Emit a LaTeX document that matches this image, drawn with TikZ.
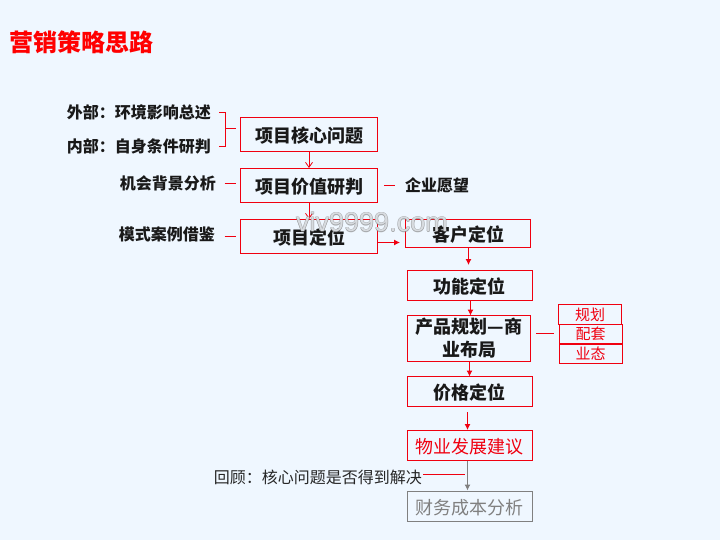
\documentclass[tikz,border=0pt]{standalone}
\usepackage{fontspec}
\setmainfont{Noto Sans CJK SC}
\newfontfamily\latin{Liberation Sans}
\usetikzlibrary{arrows.meta}
\definecolor{bgc}{HTML}{EFF7FF}
\definecolor{rd}{HTML}{F00010}
\tikzset{
  box/.style={draw=rd,line width=1pt,minimum height=34pt,inner sep=0pt,align=center,font=\fontsize{18}{23}\selectfont\bfseries,text=black!90,execute at begin node={\rule{0pt}{18pt}}},
  lab/.style={inner sep=0pt,font=\fontsize{16}{18}\selectfont\bfseries,text=black!90},
  sub/.style={draw=rd,line width=1pt,minimum width=63pt,minimum height=19.5pt,inner sep=0pt,font=\fontsize{15}{16}\selectfont,text=rd},
  conn/.style={draw=rd,line width=1pt},
  arr/.style={conn,-{Latex[length=6pt,width=6pt]}},
  varr/.style={conn,-{Straight Barb[length=5pt,width=7pt]}},
  wmark/.style={inner sep=0pt,font=\latin\fontsize{27}{28}\selectfont}
}
\begin{document}
\begin{tikzpicture}[x=1pt,y=-1pt]
\fill[bgc] (0,0) rectangle (720,540);
\useasboundingbox (0,0) rectangle (720,540);
\node[anchor=west,inner sep=0pt,text=red,font=\fontsize{24}{26}\selectfont\bfseries] (title) at (9,42) {营销策略思路};
\node[box,minimum width=137pt] (core) at (309,134.5) {项目核心问题};
\node[box,minimum width=137pt] (value) at (309,185.5) {项目价值研判};
\node[box,minimum width=137pt] (proj) at (309,236.5) {项目定位};
\node[box,minimum width=125pt,minimum height=28pt] (cust) at (468,233.5) {客户定位};
\node[box,minimum width=125pt,minimum height=30pt] (func) at (469.5,285.5) {功能定位};
\node[box,minimum width=123pt,minimum height=46pt] (prod) at (469,338.5) {产品规划—商\\业布局};
\node[box,minimum width=125pt,minimum height=30pt] (price) at (469.5,391.5) {价格定位};
\node[box,minimum width=125pt,minimum height=30pt,font=\fontsize{18}{23}\selectfont,text=rd] (prop) at (469.5,445.5) {物业发展建议};
\node[box,draw=gray,minimum width=125pt,minimum height=30pt,font=\fontsize{18}{23}\selectfont,text=gray] (fin) at (469.5,506.5) {财务成本分析};
\node[sub] (s1) at (590,314.5) {规划};
\node[sub] (s2) at (590.5,334) {配套};
\node[sub] (s3) at (590.5,354) {业态};
\node[lab,anchor=east] (ext) at (211,112.5) {外部：环境影响总述};
\node[lab,anchor=east] (int) at (211,146.5) {内部：自身条件研判};
\node[lab,anchor=east] (opp) at (216,183.5) {机会背景分析};
\node[lab,anchor=east] (case) at (215,234.5) {模式案例借鉴};
\node[lab,anchor=west] (wish) at (405,185.5) {企业愿望};
\node[anchor=east,inner sep=0pt,font=\fontsize{16}{18}\selectfont,text=black!85] (rev) at (422,477.5) {回顾：核心问题是否得到解决};
\coordinate (bt) at (219,112.5);
\coordinate (bb) at (219,146.5);
\coordinate (bm) at (225.5,128.5);
\draw[conn] (bt) -- (225.5,112.5) -- (225.5,146.5) -- (bb);
\draw[conn] (bm) -- (236,128.5);
\draw[varr,line width=.8pt] (core) -- (value);
\draw[varr,line width=.8pt] (value) -- (proj);
\draw[conn] (224.5,183.5) -- (236,183.5);
\draw[conn] (224.5,236.5) -- (236,236.5);
\draw[conn] (384,185.5) -- (395,185.5);
\draw[arr] (377.5,242.5) -- (400,242.5);
\draw[arr] (468.5,247.5) -- (468.5,265);
\draw[arr] (470.5,300.5) -- (470.5,315.5);
\draw[arr] (469.5,361.5) -- (469.5,376.5);
\draw[arr] (467.5,412) -- (467.5,430);
\draw[conn] (536,333.5) -- (554,333.5);
\draw[conn] (423,474.5) -- (465,474.5);
\draw[draw=gray,line width=1pt,-{Latex[length=6pt,width=6pt]}] (467.5,460.5) -- (467.5,490.5);
\foreach \dx/\dy in {-.5/0,.5/0,0/-.5,0/.5}
  \node[wmark,text=gray,text opacity=.6] at (372+\dx,222+\dy) {viv9999.com};
\node[wmark,text=bgc!70!white,text opacity=.75] (wm) at (372,222) {viv9999.com};
\end{tikzpicture}
\end{document}
